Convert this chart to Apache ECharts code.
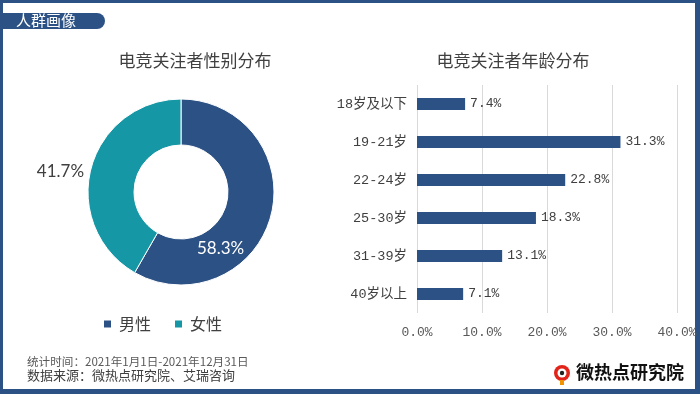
<!DOCTYPE html>
<html><head><meta charset="utf-8">
<script src="https://cdn.jsdelivr.net/npm/echarts@6/dist/echarts.min.js"></script>
<style>html,body{margin:0;padding:0;background:#fff}#c{width:700px;height:394px}</style>
</head><body><div id="c"></div>
<script>
const genderNames = ['男性', '女性'];
const genderValues = [58.3, 41.7];
const ageCategories = ['18岁及以下', '19-21岁', '22-24岁', '25-30岁', '31-39岁', '40岁以上'];
const ageValues = [7.4, 31.3, 22.8, 18.3, 13.1, 7.1];
const xTicks = [0, 10, 20, 30, 40];

const DARK = '#2c5185';
const TEAL = '#1597a5';
const CJK = '"Noto Sans CJK SC", sans-serif';
const MONO = '"Liberation Mono", "Noto Sans CJK SC", monospace';

const chart = echarts.init(document.getElementById('c'));
chart.setOption({
  animation: false,
  backgroundColor: '#fff',
  title: [
    { text: '电竞关注者性别分布', left: 190, top: 47, textAlign: 'center',
      textStyle: { fontFamily: CJK, fontSize: 17, fontWeight: 'normal', color: '#404040' } },
    { text: '电竞关注者年龄分布', left: 508, top: 47, textAlign: 'center',
      textStyle: { fontFamily: CJK, fontSize: 17, fontWeight: 'normal', color: '#404040' } }
  ],
  legend: {
    data: genderNames, left: 97, top: 311, icon: 'rect', itemWidth: 9, itemHeight: 9, itemGap: 22,
    textStyle: { fontFamily: CJK, fontSize: 16, color: '#404040', padding: [0, 0, 0, 2] }
  },
  grid: { left: 417, right: 23, top: 85, bottom: 81 },
  xAxis: {
    type: 'value', min: xTicks[0], max: xTicks[xTicks.length - 1], interval: 10,
    axisLine: { show: false }, axisTick: { show: false },
    splitLine: { lineStyle: { color: '#d9d9d9', width: 1 } },
    axisLabel: { formatter: v => v.toFixed(1) + '%', fontFamily: MONO, fontSize: 13, color: '#595959', margin: 13 }
  },
  yAxis: {
    type: 'category', data: ageCategories, inverse: true,
    axisLine: { show: false }, axisTick: { show: false },
    axisLabel: { fontFamily: MONO, fontSize: 13.5, color: '#404040', margin: 10 }
  },
  series: [
    {
      type: 'pie', center: [181, 192], radius: [47, 93], startAngle: 90, clockwise: true,
      itemStyle: { borderColor: '#fff', borderWidth: 1 },
      labelLine: { show: false },
      data: [
        { name: genderNames[0], value: genderValues[0], itemStyle: { color: DARK },
          label: { show: true, position: 'inside', offset: [-31, 38], formatter: '{c}%',
            fontFamily: 'Lato, "Noto Sans", sans-serif', fontSize: 17, color: '#fff' } },
        { name: genderNames[1], value: genderValues[1], itemStyle: { color: TEAL },
          label: { show: true, position: 'inside', offset: [-50, -2], formatter: '{c}%',
            fontFamily: 'Lato, "Noto Sans", sans-serif', fontSize: 17, color: '#404040' } }
      ]
    },
    {
      type: 'bar', data: ageValues, barWidth: 12,
      itemStyle: { color: DARK },
      label: { show: true, position: 'right', distance: 5, formatter: p => p.value.toFixed(1) + '%',
        fontFamily: MONO, fontSize: 13, color: '#404040' }
    }
  ],
  graphic: [
    { type: 'rect', shape: { x: 0, y: 0, width: 700, height: 3 }, style: { fill: DARK } },
    { type: 'rect', shape: { x: 0, y: 0, width: 3, height: 394 }, style: { fill: DARK } },
    { type: 'rect', shape: { x: 695, y: 0, width: 5, height: 394 }, style: { fill: DARK } },
    { type: 'rect', shape: { x: 0, y: 389, width: 700, height: 5 }, style: { fill: DARK } },
    { type: 'rect', shape: { x: 0, y: 13, width: 105, height: 16, r: [0, 8, 8, 0] }, style: { fill: DARK } },
    { type: 'text', left: 16, top: 13, style: { text: '人群画像', font: '15px "Noto Sans CJK SC"', fill: '#fff' } },
    { type: 'text', left: 27, top: 356, style: { text: '统计时间：2021年1月1日-2021年12月31日', font: '11.6px "Noto Sans CJK SC"', fill: '#595959' } },
    { type: 'text', left: 27, top: 369, style: { text: '数据来源：微热点研究院、艾瑞咨询', font: '13px "Noto Sans CJK SC"', fill: '#404040' } },
    { type: 'circle', shape: { cx: 562, cy: 373, r: 8 }, style: { fill: '#e2231a' } },
    { type: 'circle', shape: { cx: 562, cy: 373, r: 4.5 }, style: { fill: '#fff' } },
    { type: 'circle', shape: { cx: 562, cy: 373, r: 2.2 }, style: { fill: '#222' } },
    { type: 'rect', shape: { x: 560, y: 380, width: 4, height: 5 }, style: { fill: '#f29400' } },
    { type: 'text', left: 576, top: 363, style: { text: '微热点研究院', font: 'bold 18px "Noto Sans CJK SC"', fill: '#111' } }
  ]
});
</script></body></html>
